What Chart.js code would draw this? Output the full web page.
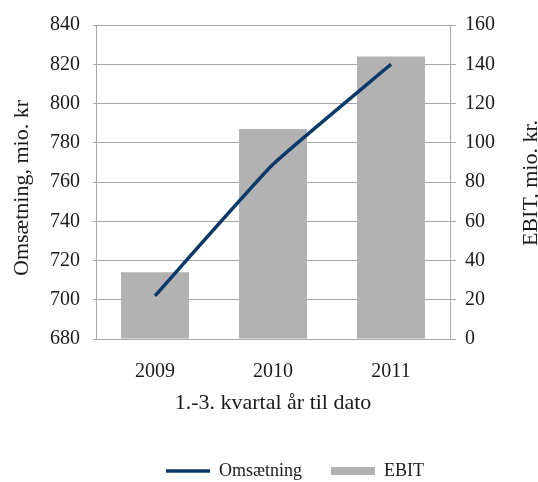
<!DOCTYPE html>
<html>
<head>
<meta charset="utf-8">
<script src="https://cdn.jsdelivr.net/npm/chart.js@4.4.0/dist/chart.umd.min.js"></script>
<style>
html, body { margin: 0; padding: 0; background: #fff; }
#wrap { width: 538px; height: 482px; }
</style>
</head>
<body>
<div id="wrap"><canvas id="chart"></canvas></div>
<script>
var years = ['2009', '2010', '2011'];
var omsaetning = [702, 769, 820];
var ebit = [34, 107, 144];

var leftTitle = 'Omsætning, mio. kr';
var rightTitle = 'EBIT, mio. kr.';
var xTitle = '1.-3. kvartal år til dato';

var TEXT = '#1a1a1a';
var GRID = '#a8a8a8';
var SERIF = '"Liberation Serif", "Times New Roman", serif';

Chart.defaults.font.family = SERIF;
Chart.defaults.color = TEXT;

function drawUpText(ctx, text, x, y) {
    ctx.save();
    ctx.translate(x, y);
    ctx.rotate(-Math.PI / 2);
    ctx.font = '22px ' + SERIF;
    ctx.fillStyle = TEXT;
    ctx.textAlign = 'center';
    ctx.textBaseline = 'alphabetic';
    ctx.fillText(text, 0, 0);
    ctx.restore();
}

// moves the legend a bit and draws both y titles reading upwards
var tweaks = {
    id: 'tweaks',
    afterLayout: function(chart) {
        var lg = chart.legend;
        lg.left += 26; lg.right += 26;
        lg.top += 17; lg.bottom += 17;
    },
    afterDraw: function(chart) {
        drawUpText(chart.ctx, leftTitle, 28, 188);
        drawUpText(chart.ctx, rightTitle, 537, 183);
    }
};

new Chart(document.getElementById('chart').getContext('2d'), {
    type: 'bar',
    data: {
        labels: years,
        datasets: [{
            type: 'line',
            label: 'Omsætning',
            data: omsaetning,
            yAxisID: 'y',
            borderColor: '#0b3a6a',
            backgroundColor: '#0b3a6a',
            borderWidth: 3.5,
            pointRadius: 0,
            pointStyle: 'line',
            tension: 0.12,
            order: 0
        }, {
            type: 'bar',
            label: 'EBIT',
            data: ebit,
            yAxisID: 'y1',
            backgroundColor: '#b2b2b2',
            borderWidth: 0,
            pointStyle: 'rect',
            categoryPercentage: 1,
            barPercentage: 0.576,
            order: 1
        }]
    },
    options: {
        responsive: true,
        maintainAspectRatio: false,
        animation: false,
        layout: { padding: { top: 23, bottom: 9, left: 0, right: 0 } },
        plugins: {
            tooltip: { enabled: false },
            legend: {
                position: 'bottom',
                labels: {
                    usePointStyle: true,
                    pointStyleWidth: 44,
                    boxHeight: 8,
                    padding: 29,
                    color: TEXT,
                    font: { size: 18 }
                }
            }
        },
        scales: {
            x: {
                grid: { display: false, drawTicks: false },
                border: { display: true, color: GRID, width: 1 },
                ticks: { padding: 21, font: { size: 20 }, color: TEXT },
                title: { display: true, text: xTitle, font: { size: 22 }, color: TEXT, padding: 0 },
                afterFit: function(s) { s.height = 77; }
            },
            y: {
                position: 'left',
                min: 680,
                max: 840,
                ticks: { stepSize: 20, padding: 13, font: { size: 20 }, color: TEXT },
                grid: { color: GRID, tickLength: 3, drawTicks: true },
                border: { display: true, color: GRID, width: 1 },
                afterFit: function(s) { s.width = 96; }
            },
            y1: {
                position: 'right',
                min: 0,
                max: 160,
                ticks: { stepSize: 20, padding: 9, font: { size: 20 }, color: TEXT },
                grid: { drawOnChartArea: false, color: GRID, tickLength: 6, drawTicks: true },
                border: { display: true, color: GRID, width: 1 },
                afterFit: function(s) { s.width = 88; }
            }
        }
    },
    plugins: [tweaks]
});
</script>
</body>
</html>
